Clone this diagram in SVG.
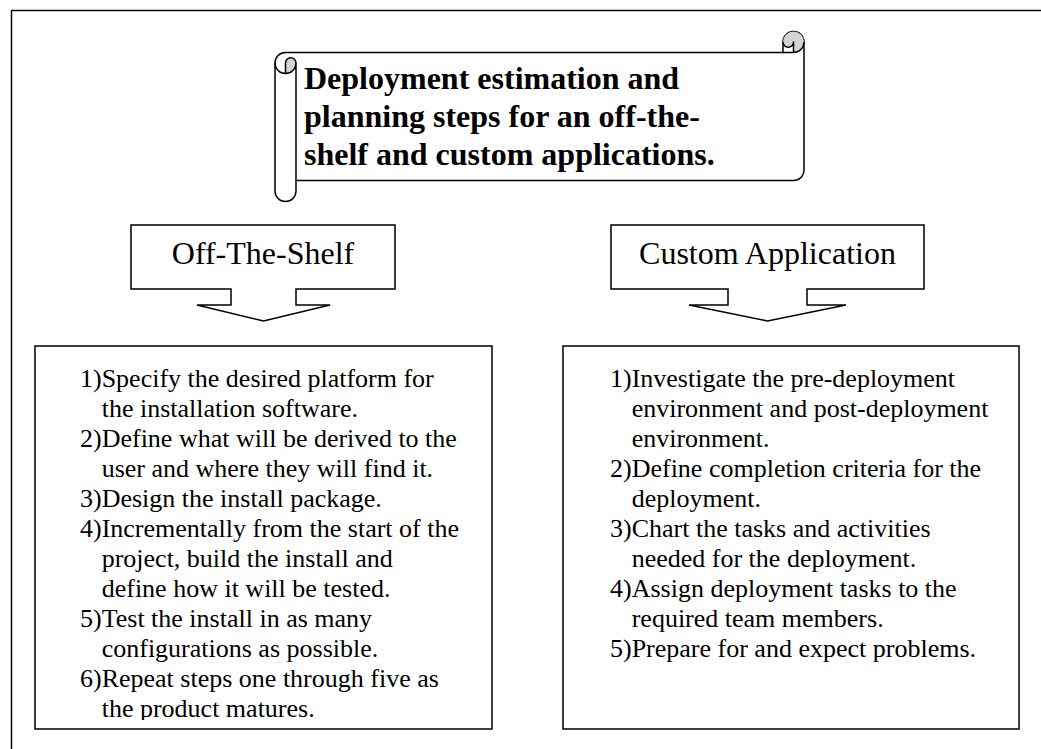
<svg xmlns="http://www.w3.org/2000/svg" width="1041" height="749" viewBox="0 0 1041 749">
<style>
.ln{fill:none;stroke:#000;stroke-width:1.5;stroke-linejoin:round}
.wb{fill:#fff;stroke:#000;stroke-width:1.5;stroke-linejoin:miter}
.dk{fill:#d3d3d3;stroke:none}
.ttl{font-family:"Liberation Serif","Times New Roman",serif;font-weight:bold;font-size:32px;fill:#000}
.lbl{font-family:"Liberation Serif","Times New Roman",serif;font-size:32px;fill:#000;text-anchor:middle}
.txt{font-family:"Liberation Serif","Times New Roman",serif;font-size:26px;fill:#000}
</style>
<defs>
<clipPath id="clipL"><rect x="36" y="347" width="455" height="373"/></clipPath>
<clipPath id="clipR"><rect x="564" y="347" width="454" height="373"/></clipPath>
</defs>
<rect width="1041" height="749" fill="#fff"/>
<g id="frame">
<rect x="11.5" y="10.5" width="1100" height="800" class="ln"/>
</g>
<g id="title">
<g transform="translate(275,31.5)">
<path class="wb" d="M0,31.5 A10.5,10.5 0 0 1 10.5,21 L508,21 L508,10.5 A10.5,10.5 0 0 1 529,10.5 L529,138.5 A10.5,10.5 0 0 1 518.5,149 L21,149 L21,159.5 A10.5,10.5 0 0 1 0,159.5 Z"/>
<path class="dk" d="M10.5,42 A10.5,10.5 0 0 0 21,31.5 A5.25,5.25 0 0 0 10.5,31.5 Z M518.5,21 A10.5,10.5 0 1 0 508,10.5 A5.25,5.25 0 0 0 518.5,10.5 Z"/>
<path class="ln" d="M508,21 L518.5,21 A10.5,10.5 0 0 0 529,10.5 M518.5,21 L518.5,10.5 A5.25,5.25 0 0 1 508,10.5 M10.5,42 L10.5,31.5 A5.25,5.25 0 0 1 21,31.5 A10.5,10.5 0 0 1 0,31.5 M21,31.5 L21,149"/>
</g>
<text class="ttl" x="304" y="89">Deployment estimation and</text>
<text class="ttl" x="304" y="127">planning steps for an off-the-</text>
<text class="ttl" x="304" y="165">shelf and custom applications.</text>
</g>
<g id="off-the-shelf">
<path class="wb" d="M131,225 H395 V289 H296 V305 H330 L263.5,321 L197,305 H231 V289 H131 Z"/>
<text class="lbl" x="263" y="264">Off-The-Shelf</text>
</g>
<g id="custom-application">
<path class="wb" d="M611,225 H924 V289 H807 V305 H846 L767.5,321 L689,305 H728 V289 H611 Z"/>
<text class="lbl" x="767.5" y="264">Custom Application</text>
</g>
<g id="off-the-shelf-steps">
<rect class="wb" x="35" y="346" width="457" height="383"/>
<g clip-path="url(#clipL)" class="txt">
<text x="80" y="387">1)Specify the desired platform for</text>
<text x="101.7" y="417">the installation software.</text>
<text x="80" y="447">2)Define what will be derived to the</text>
<text x="101.7" y="477">user and where they will find it.</text>
<text x="80" y="507">3)Design the install package.</text>
<text x="80" y="537">4)Incrementally from the start of the</text>
<text x="101.7" y="567">project, build the install and</text>
<text x="101.7" y="597">define how it will be tested.</text>
<text x="80" y="627">5)Test the install in as many</text>
<text x="101.7" y="657">configurations as possible.</text>
<text x="80" y="687">6)Repeat steps one through five as</text>
<text x="101.7" y="717">the product matures.</text>
</g>
</g>
<g id="custom-application-steps">
<rect class="wb" x="563" y="346" width="456" height="383"/>
<g clip-path="url(#clipR)" class="txt">
<text x="610" y="387">1)Investigate the pre-deployment</text>
<text x="631.7" y="417">environment and post-deployment</text>
<text x="631.7" y="447">environment.</text>
<text x="610" y="477">2)Define completion criteria for the</text>
<text x="631.7" y="507">deployment.</text>
<text x="610" y="537">3)Chart the tasks and activities</text>
<text x="631.7" y="567">needed for the deployment.</text>
<text x="610" y="597">4)Assign deployment tasks to the</text>
<text x="631.7" y="627">required team members.</text>
<text x="610" y="657">5)Prepare for and expect problems.</text>
</g>
</g>
</svg>
